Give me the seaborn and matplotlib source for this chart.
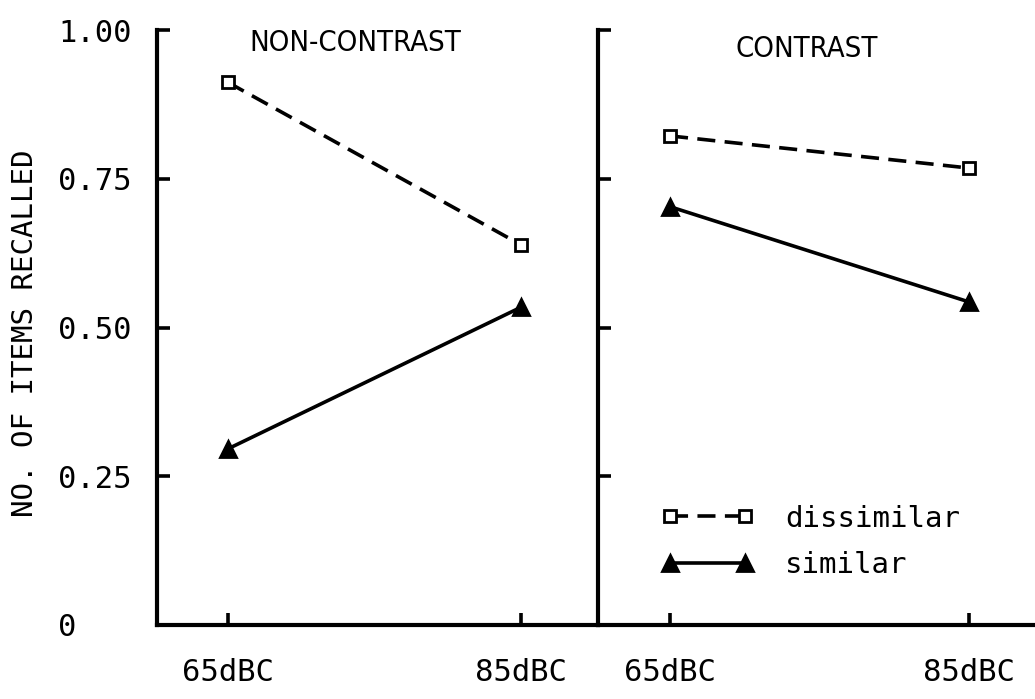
import matplotlib
matplotlib.use("Agg")
import matplotlib.pyplot as plt
import matplotlib.transforms as mtransforms
import seaborn as sns
import pandas as pd

# Recall scores by noise level, contrast condition and item similarity
levels = ["65dBC", "85dBC"]
panels = ["NON-CONTRAST", "CONTRAST"]
series = ["dissimilar", "similar"]
noncontrast_dissimilar = [0.912, 0.639]
noncontrast_similar = [0.296, 0.534]
contrast_dissimilar = [0.822, 0.768]
contrast_similar = [0.703, 0.543]
ytick_values = [0, 0.25, 0.50, 0.75, 1.00]
ytick_labels = ["0", "0.25", "0.50", "0.75", "1.00"]

values = {
    ("NON-CONTRAST", "dissimilar"): noncontrast_dissimilar,
    ("NON-CONTRAST", "similar"): noncontrast_similar,
    ("CONTRAST", "dissimilar"): contrast_dissimilar,
    ("CONTRAST", "similar"): contrast_similar,
}
rows = []
for (panel, sim), vals in values.items():
    for lev, v in zip(levels, vals):
        rows.append({"panel": panel, "level": lev, "similarity": sim, "recalled": v})
df = pd.DataFrame(rows)

sns.set_theme(style="white")
plt.rcParams["font.family"] = ["DejaVu Sans Mono", "DejaVu Sans"]
plt.rcParams["text.color"] = "black"
plt.rcParams["xtick.color"] = "black"
plt.rcParams["ytick.color"] = "black"

fig = plt.figure(figsize=(10.35, 6.99), dpi=100)
W, H = 1035, 699
y_bot, y_top = 625, 30
ax_left = fig.add_axes([157 / W, (H - y_bot) / H, (598 - 157) / W, (y_bot - y_top) / H])
ax_right = fig.add_axes([598 / W, (H - y_bot) / H, (W - 598) / W, (y_bot - y_top) / H])

mono = ["DejaVu Sans Mono", "DejaVu Sans"]

xlims = {"NON-CONTRAST": (-0.242, 1.263), "CONTRAST": (-0.241, 1.221)}
title_pos = {"NON-CONTRAST": (0.449, 0.978), "CONTRAST": (0.478, 0.968)}

for ax, panel in zip([ax_left, ax_right], panels):
    sub = df[df["panel"] == panel]
    sns.lineplot(
        data=sub, x="level", y="recalled", hue="similarity", style="similarity",
        hue_order=series, style_order=series,
        palette={"dissimilar": "black", "similar": "black"},
        markers={"dissimilar": "s", "similar": "^"},
        dashes={"dissimilar": (5, 2.6), "similar": ""},
        linewidth=2.6, markeredgecolor="black", markeredgewidth=2.0,
        ax=ax, legend=False, sort=False,
    )
    for line in ax.lines:
        if line.get_marker() == "s":
            line.set_markerfacecolor("white")
            line.set_markersize(8)
        else:
            line.set_markersize(11)

    ax.set_xlim(*xlims[panel])
    ax.set_ylim(0, 1.0)
    ax.set_xlabel("")
    ax.set_ylabel("")
    ax.set_facecolor("white")
    for side in ["top", "right"]:
        ax.spines[side].set_visible(False)
    for side in ["left", "bottom"]:
        ax.spines[side].set_linewidth(3)
        ax.spines[side].set_color("black")
    ax.set_yticks(ytick_values)
    ax.set_xticks(range(len(levels)))
    ax.set_xticklabels(levels, fontsize=22, family=mono, color="black")
    ax.tick_params(axis="both", which="major", left=True, bottom=True,
                   direction="in", length=9, width=2.6, color="black")
    ax.tick_params(axis="x", pad=24)
    tx, ty = title_pos[panel]
    ax.text(tx, ty, panel, transform=ax.transAxes, ha="center", va="center",
            fontsize=21, family="DejaVu Sans", fontstretch="condensed",
            color="black")

ax_left.set_yticklabels(ytick_labels, fontsize=22, family=mono, color="black")
# left-aligned value labels, sitting slightly above their ticks
lift = mtransforms.ScaledTranslation(0, 6 / 72, fig.dpi_scale_trans)
for lab in ax_left.get_yticklabels():
    lab.set_horizontalalignment("left")
    lab.set_transform(lab.get_transform() + lift)
ax_left.tick_params(axis="y", pad=71)
ax_right.set_yticklabels([])

handles = ax_right.lines[:2]
ax_right.legend(
    handles, series, loc="center left", bbox_to_anchor=(0.144, 0.140),
    frameon=False, numpoints=2, handlelength=3.17, handletextpad=1.08,
    labelspacing=0.62, borderpad=0, borderaxespad=0,
    prop={"family": mono, "size": 21}, labelcolor="black",
)

fig.text(25 / W, 1 - 333 / H, "NO. OF ITEMS RECALLED", rotation=90,
         ha="center", va="center", fontsize=21, family=mono, color="black")

fig.savefig("out.png", dpi=100, facecolor="white")
